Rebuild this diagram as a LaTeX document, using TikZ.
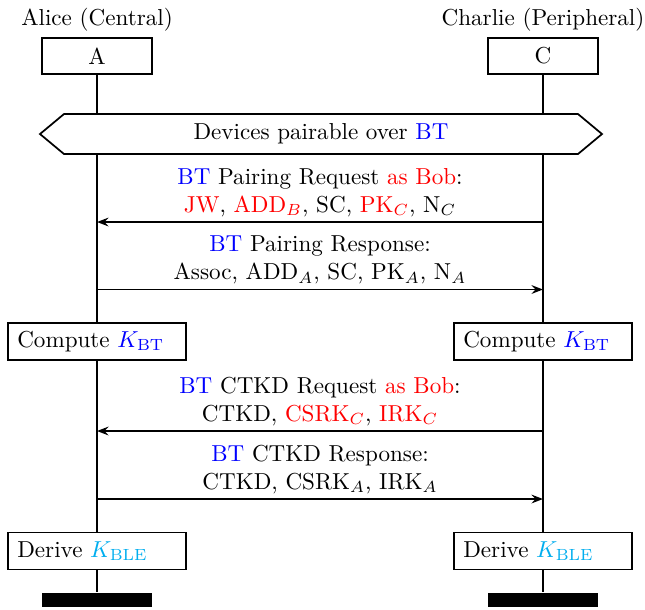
\documentclass[tikz,border=0pt]{standalone}
\usetikzlibrary{arrows.meta}
\definecolor{btblue}{RGB}{0,0,255}
\definecolor{bobred}{RGB}{255,0,0}
\definecolor{blecyan}{RGB}{0,174,239}
\newcommand{\btname}{\textcolor{btblue}{BT}}
\newcommand{\asbob}{\textcolor{bobred}{as Bob}}
\newcommand{\bobtxt}[1]{\textcolor{bobred}{#1}}
\begin{document}
\begin{tikzpicture}[x=0.4329pt,y=-0.4329pt,
  line width=0.75pt,
  head/.style={draw, fill=white, minimum width=47.6pt, minimum height=15.5pt, inner sep=0pt},
  act/.style={draw, fill=white, minimum height=16pt, text width=69pt, align=left,
              inner xsep=4pt, inner ysep=0pt},
  foot/.style={fill=black, minimum width=47.6pt, minimum height=6pt, inner sep=0pt},
  msg/.style={-{Stealth[length=5pt,width=3.8pt,inset=1.8pt]}},
  lbl/.style={align=center, inner sep=2pt, above}
]
\useasboundingbox (0,0) rectangle (645,609);

% instance heads and ends
\node[anchor=base] (tA) at (97,25) {Alice (Central)};
\node[anchor=base] (tC) at (543,25) {Charlie (Peripheral)};
\node[head] (A) at (97,56) {A};
\node[head] (C) at (543,56) {C};
\node[foot] (eA) at (97,600) {};
\node[foot] (eC) at (543,600) {};

% lifelines
\draw (A.south) -- (eA.north);
\draw (C.south) -- (eC.north);

% condition
\draw[fill=white] (40,134) -- (64,114) -- (578,114) -- (602,134) -- (578,154) -- (64,154) -- cycle;
\node (cond) at (321,134) {Devices pairable over \btname};

% lifeline points for messages
\coordinate (a1) at (97,222);  \coordinate (c1) at (543,222);
\coordinate (a2) at (97,289.5);\coordinate (c2) at (543,289.5);
\coordinate (a3) at (97,431);  \coordinate (c3) at (543,431);
\coordinate (a4) at (97,499);  \coordinate (c4) at (543,499);

% pairing
\draw[msg] (c1) -- (a1) node[lbl, midway] (m1)
  {\btname{} Pairing Request \asbob:\\
   \bobtxt{JW}, \bobtxt{ADD$_B$}, SC, \bobtxt{PK$_C$}, N$_C$};
\draw[msg] (a2) -- (c2) node[lbl, midway] (m2)
  {\btname{} Pairing Response:\\
   Assoc, ADD$_A$, SC, PK$_A$, N$_A$};

\node[act] (kA) at (97,341.5) {Compute \textcolor{btblue}{$K_{\mathrm{BT}}$}};
\node[act] (kC) at (543,341.5) {Compute \textcolor{btblue}{$K_{\mathrm{BT}}$}};

% cross-transport key derivation
\draw[msg] (c3) -- (a3) node[lbl, midway] (m3)
  {\btname{} CTKD Request \asbob:\\
   CTKD, \bobtxt{CSRK$_C$}, \bobtxt{IRK$_C$}};
\draw[msg] (a4) -- (c4) node[lbl, midway] (m4)
  {\btname{} CTKD Response:\\
   CTKD, CSRK$_A$, IRK$_A$};

\node[act] (dA) at (97,551) {Derive \textcolor{blecyan}{$K_{\mathrm{BLE}}$}};
\node[act] (dC) at (543,551) {Derive \textcolor{blecyan}{$K_{\mathrm{BLE}}$}};
\end{tikzpicture}
\end{document}
